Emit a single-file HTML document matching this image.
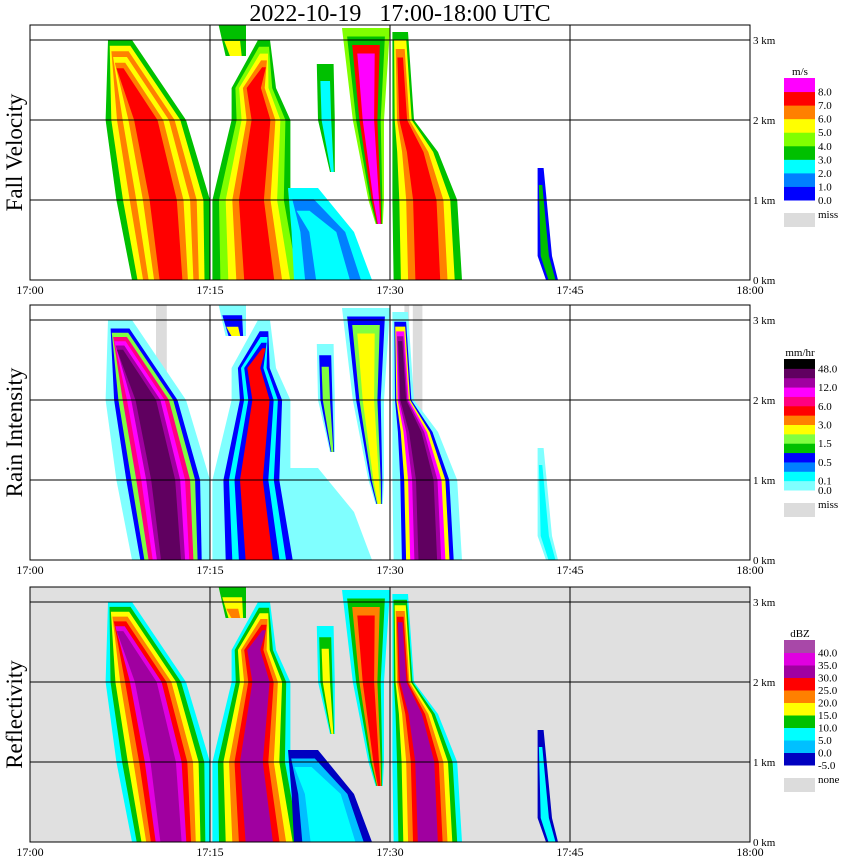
<!DOCTYPE html>
<html><head><meta charset="utf-8">
<style>
body{margin:0;background:#fff;}
svg{display:block;font-family:"Liberation Serif",serif;}
</style></head>
<body>
<svg id="chart" width="850" height="868" viewBox="0 0 850 868" xmlns="http://www.w3.org/2000/svg">
<text x="400" y="21" text-anchor="middle" font-size="24" xml:space="preserve">2022-10-19&#160;&#160;&#160;17:00-18:00 UTC</text>
</svg>
<script>
// ---- data ----
const xTickLabels = ["17:00","17:15","17:30","17:45","18:00"];
const xTickMinutes = [0,15,30,45,60];
const yTickKm = [0,1,2,3];
const yTickLabels = ["0 km","1 km","2 km","3 km"];
const panelTitles = ["Fall Velocity","Rain Intensity","Reflectivity"];
const panelUnits = ["m/s","mm/hr","dBZ"];
// storm streak outlines: rows of [km, leftMinute, rightMinute]
const streak1 = [[3.0,6.5,8.5],[2.0,6.3,13],[1.0,7.2,15],[0,8.5,15]];
const streak2 = [[3.0,19.0,20.0],[2.4,16.8,20.5],[2.0,16.8,21.7],[1.0,15.2,21.7],[0,15.2,23]];
const streak3 = [[1.15,21.5,24.0],[0.6,21.8,27],[0,22,28.5]];
const streak4 = [[2.7,23.9,25.3],[2.0,24.0,25.4],[1.35,25.0,25.4]];
const streak5 = [[3.15,26,30],[2.0,26.9,29.5],[1.0,28.2,29.5],[0.7,28.8,29.4]];
const streak6 = [[3.1,30.2,31.5],[2.0,30.2,32.0],[1.6,30.2,34],[1.0,30.2,35.6],[0,30.3,36]];
const streak7 = [[3.2,15.7,18],[2.8,16.3,18]];
const streak8 = [[1.4,42.3,42.8],[0.3,42.3,43.5],[0,43,44]];
const streaks = [streak1,streak2,streak3,streak4,streak5,streak6,streak7,streak8];
// color layers (outer -> inner) per panel, indices into palettes
const fvLayers = [[3,5,6,5,6,7],[3,4,5,6,7],[2,1,2],[3,2],[4,3,7,8],[3,5,6,7],[3,5],[0,3]];
const riLayers = [[0,0,3,5,9,10,11,12],[0,0,3,1,3,8],[0],[0,3,5],[0,3,5,6],[0,0,3,6,10,11,12],[0,3,6],[0,1]];
const dbzLayers = [[2,3,4,5,6,8,7],[2,3,4,5,6,7],[0,1,2,2],[2,3,4],[2,3,5,6],[2,3,4,5,6,7],[3,4,5],[0,2]];
// palettes bottom -> top
const fvColors = ["#0000ff","#0080ff","#00ffff","#00c000","#80ff00","#ffff00","#ff8000","#ff0000","#ff00ff"];
const fvLabels = ["0.0","1.0","2.0","3.0","4.0","5.0","6.0","7.0","8.0"];
const riColors = ["#80ffff","#00ffff","#0080ff","#0000ff","#00c000","#80ff40","#ffff00","#ff8000","#ff0000","#ff0080","#ff00ff","#a000a0","#600060","#000000"];
const riLabels = ["0.0","0.1","","0.5","","1.5","","3.0","","6.0","","12.0","","48.0"];
const dbzColors = ["#0000c0","#00c0ff","#00ffff","#00c000","#ffff00","#ff8000","#ff0000","#a000a0","#e000e0","#a848a8"];
const dbzLabels = ["-5.0","0.0","5.0","10.0","15.0","20.0","25.0","30.0","35.0","40.0"];
const missBarsRain = [[10.5,11.4],[31.2,31.6],[31.9,32.7]];
// ---- layout ----
const NS="http://www.w3.org/2000/svg";
const svg=document.getElementById('chart');
const X0=30,X1=750,PXM=12,PXK=80;
const bases=[280,560,842], tops=[25,305,587];
const legendTops=[78,359,640], legendBottoms=[200,490,765];
function xs(m){return X0+m*PXM;}
function mk(tag,attrs,parent){const e=document.createElementNS(NS,tag);for(const k in attrs)e.setAttribute(k,attrs[k]);(parent||svg).appendChild(e);return e;}
const palettes=[fvColors,riColors,dbzColors];
const labelsets=[fvLabels,riLabels,dbzLabels];
const layersets=[fvLayers,riLayers,dbzLayers];
const missNames=["miss","miss","none"];
for(let p=0;p<3;p++){
  const base=bases[p],top=tops[p];
  const ys=km=>base-km*PXK;
  const g=mk('g',{});
  
  
  const bg=mk('rect',{x:X0,y:top,width:X1-X0,height:base-top,fill:p==2?'#e0e0e0':'#fff'},g);
  
  
  if(p==1){missBarsRain.forEach(b=>{const r=mk('rect',{x:xs(b[0]),y:top,width:xs(b[1])-xs(b[0]),height:base-top,fill:'#dcdcdc'},g);
    
    });}
  const cl=mk('clipPath',{id:'clip'+p},g);mk('rect',{x:X0,y:top,width:X1-X0,height:base-top},cl);
  const dg=mk('g',{'clip-path':'url(#clip'+p+')'},g);
  streaks.forEach((rows,si)=>{
    const lays=layersets[p][si];const n=lays.length;
    lays.forEach((ci,k)=>{
      const f=k/n*0.85;
      const L=[],R=[];
      rows.forEach((r,ri)=>{
        let km=r[0];
        if(ri==0&&rows.length>1)km=Math.max(rows[1][0]+0.05,km-f*0.5);
        const c=(r[1]+r[2])/2,w=(r[2]-r[1])/2*(1-f);
        L.push([xs(c-w),ys(km)]);R.push([xs(c+w),ys(km)]);
      });
      const pts=L.concat(R.reverse()).map(q=>q[0].toFixed(1)+','+q[1].toFixed(1)).join(' ');
      const poly=mk('polygon',{points:pts,fill:palettes[p][ci]},dg);
      
      
    });
  });
  // grid
  xTickMinutes.slice(1,4).forEach(m=>mk('line',{x1:xs(m),x2:xs(m),y1:top,y2:base,stroke:'#000','stroke-width':1},g));
  yTickKm.slice(1).forEach(k=>mk('line',{x1:X0,x2:X1,y1:ys(k),y2:ys(k),stroke:'#000','stroke-width':1},g));
  const fr=mk('rect',{x:X0,y:top,width:X1-X0,height:base-top,fill:'none',stroke:'#000','stroke-width':1},g);
  
  
  xTickLabels.forEach((t,i)=>{const e=mk('text',{x:xs(xTickMinutes[i]),y:base+14,'text-anchor':'middle','font-size':12},g);e.textContent=t;
    
    });
  yTickLabels.forEach((t,i)=>{const e=mk('text',{x:753,y:ys(yTickKm[i])+4,'font-size':11},g);e.textContent=t;
    
    });
  const tt=mk('text',{transform:'translate(22,'+((top+base)/2)+') rotate(-90)','text-anchor':'middle','font-size':23},g);tt.textContent=panelTitles[p];
  
  
  // legend
  const lg=mk('g',{},g);
  
  
  const cols=palettes[p],n=cols.length,lt=legendTops[p],lb=legendBottoms[p],h=(lb-lt)/n;
  const ut=mk('text',{x:800,y:lt-3,'text-anchor':'middle','font-size':11},lg);ut.textContent=panelUnits[p];
  cols.forEach((c,i)=>{const yy=lb-(i+1)*h;mk('rect',{x:784,y:yy,width:31,height:h+0.5,fill:c},lg);
    const lab=labelsets[p][i];if(lab){const e=mk('text',{x:818,y:yy+h+4,'font-size':11},lg);e.textContent=lab;}});
  mk('rect',{x:784,y:lb+13,width:31,height:14,fill:'#dcdcdc'},lg);
  const me=mk('text',{x:818,y:lb+18,'font-size':11},lg);me.textContent=missNames[p];
}
</script>
</body></html>
